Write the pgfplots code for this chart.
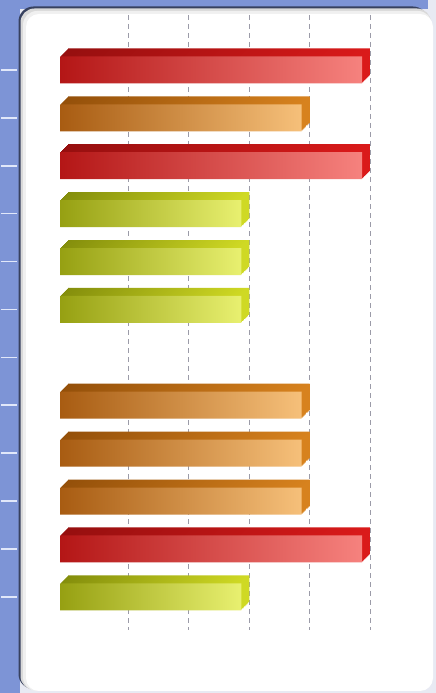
\documentclass[border=0pt]{standalone}
\usepackage{pgfplots}
\pgfplotsset{compat=1.18}
\usepackage{pgfplotstable}

\definecolor{bgblue}{RGB}{125,148,214}
\definecolor{bglight}{RGB}{232,234,243}
\definecolor{paneledge}{RGB}{55,65,95}
\definecolor{gridgray}{RGB}{155,155,168}
% front faces
\definecolor{redL}{RGB}{180,22,22}
\definecolor{redR}{RGB}{246,130,126}
\definecolor{orgL}{RGB}{168,92,18}
\definecolor{orgR}{RGB}{246,192,122}
\definecolor{ylwL}{RGB}{150,160,18}
\definecolor{ylwR}{RGB}{232,240,112}
% top and side faces
\definecolor{redtop}{RGB}{150,15,15}
\definecolor{redside}{RGB}{218,26,26}
\definecolor{orgtop}{RGB}{148,80,10}
\definecolor{orgside}{RGB}{215,130,30}
\definecolor{ylwtop}{RGB}{132,142,12}
\definecolor{ylwside}{RGB}{208,218,36}

% value (x) against category slot (y, 1 = top)
\pgfplotstableread{
x y
5 1
5 3
5 11
}\redbars
\pgfplotstableread{
x y
4 2
4 8
4 9
4 10
}\orgbars
\pgfplotstableread{
x y
3 4
3 5
3 6
3 12
}\ylwbars

\begin{document}
\begin{tikzpicture}[x=1pt,y=1pt]
% frame behind the chart
\fill[bglight] (0,0) rectangle (436,693);
\fill[bgblue] (0,0) rectangle (20,693);
\fill[bgblue] (0,684) rectangle (428,693);
\fill[paneledge, rounded corners=15pt] (18.5,4) rectangle (428,686.5);
\fill[gray!30, rounded corners=14pt] (20.5,3) rectangle (431,684.5);
\fill[gray!12, rounded corners=14pt] (23,2) rectangle (432,682);
\fill[white, rounded corners=13pt] (26,2) rectangle (433,679);

\begin{axis}[
  at={(17pt,670pt)}, anchor=north west,
  scale only axis, width=417pt, height=615pt,
  xmin=-0.712, xmax=6.19,
  ymin=0.02, ymax=12.86, y dir=reverse,
  axis line style={draw=none},
  xtick={1,...,5}, xticklabels={},
  ytick={1,...,12}, yticklabels={},
  ytick pos=left,
  tick align=outside,
  major tick length=16pt,
  ytick style={draw={rgb,255:red,225;green,232;blue,250}, line width=1.6pt},
  xtick style={draw=none},
  xmajorgrids,
  major grid style={draw=gridgray, line width=0.8pt, dash pattern=on 5pt off 4pt,
    xshift=8pt, yshift=8pt},
  clip=false,
]
% depth of the bars: stacked copies shifted up and right
\pgfplotsinvokeforeach{8,7,...,1}{
  \addplot[xbar, bar width=27pt, bar shift=0pt, draw=none,
    left color=redtop, right color=redside, xshift=#1pt, yshift=#1pt]
    table[x=x,y=y]{\redbars};
  \addplot[xbar, bar width=27pt, bar shift=0pt, draw=none,
    left color=orgtop, right color=orgside, xshift=#1pt, yshift=#1pt]
    table[x=x,y=y]{\orgbars};
  \addplot[xbar, bar width=27pt, bar shift=0pt, draw=none,
    left color=ylwtop, right color=ylwside, xshift=#1pt, yshift=#1pt]
    table[x=x,y=y]{\ylwbars};
}
% front faces
\addplot[xbar, bar width=27pt, bar shift=0pt, draw=none,
  left color=redL, right color=redR] table[x=x,y=y]{\redbars};
\addplot[xbar, bar width=27pt, bar shift=0pt, draw=none,
  left color=orgL, right color=orgR] table[x=x,y=y]{\orgbars};
\addplot[xbar, bar width=27pt, bar shift=0pt, draw=none,
  left color=ylwL, right color=ylwR] table[x=x,y=y]{\ylwbars};
\end{axis}
\pgfresetboundingbox
\path[use as bounding box] (0,0) rectangle (436,693);
\end{tikzpicture}
\end{document}
